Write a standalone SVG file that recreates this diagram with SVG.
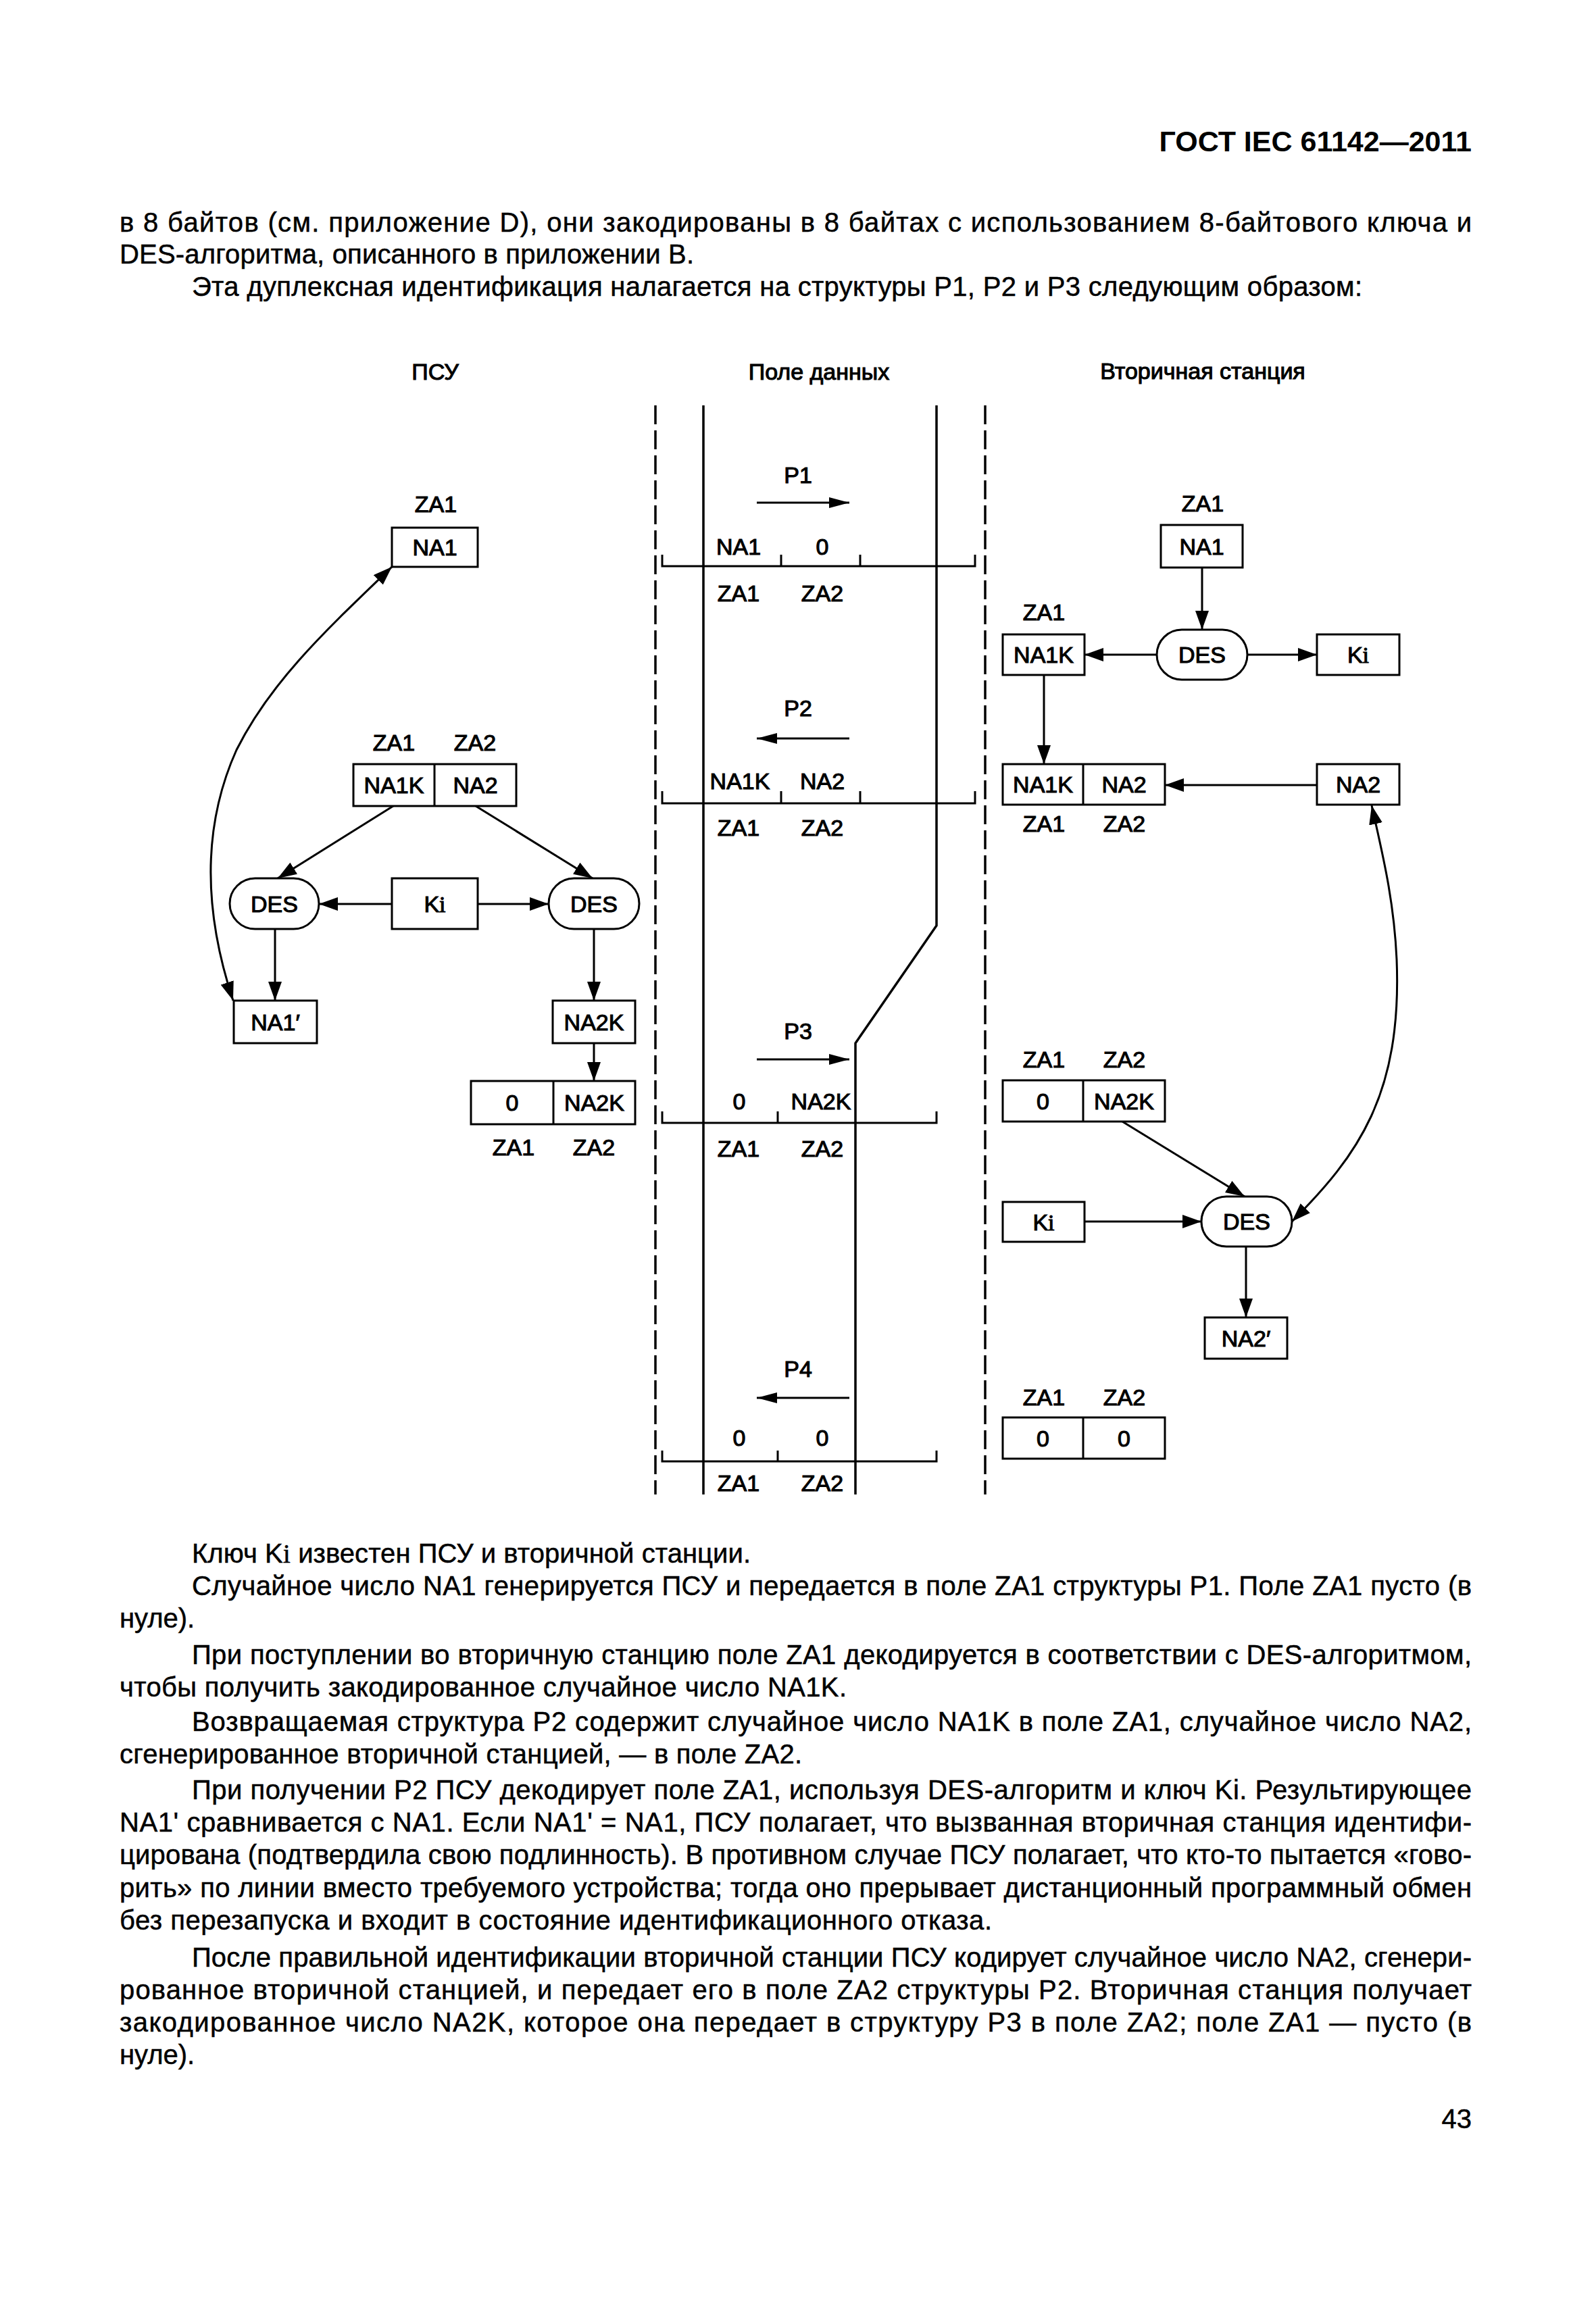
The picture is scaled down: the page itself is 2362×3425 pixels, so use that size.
<svg xmlns="http://www.w3.org/2000/svg" width="2362" height="3425" viewBox="0 0 2362 3425">
<style>
text{font-family:"Liberation Sans",Arial,sans-serif;fill:#000}
.b{font-size:40px;stroke:#000;stroke-width:0.5}
.h{font-size:43px;font-weight:bold}
.l{font-size:34px;text-anchor:middle;stroke:#000;stroke-width:1.1}
.box{fill:#fff;stroke:#000;stroke-width:3}
.c{fill:none;stroke:#000;stroke-width:3}
.v{fill:none;stroke:#000;stroke-width:3.5}
.d{fill:none;stroke:#000;stroke-width:3.5;stroke-dasharray:28 9}
.ser{font-family:"Liberation Serif",serif}
</style>
<defs>
<marker id="ah" markerWidth="28" markerHeight="20" refX="28" refY="10" orient="auto" markerUnits="userSpaceOnUse"><path d="M0,0 L28,10 L0,20 z" fill="#000"/></marker>
<marker id="ah2" markerWidth="28" markerHeight="20" refX="28" refY="10" orient="auto-start-reverse" markerUnits="userSpaceOnUse"><path d="M0,0 L28,10 L0,20 z" fill="#000"/></marker>
<marker id="pa" markerWidth="30" markerHeight="16" refX="30" refY="8" orient="auto" markerUnits="userSpaceOnUse"><path d="M0,0 L30,8 L0,16 z" fill="#000"/></marker>
</defs>
<rect width="2362" height="3425" fill="#fff"/>

<g id="page-text">
<text class="h" x="2178" y="224" text-anchor="end">ГОСТ IEC 61142—2011</text>
<text class="b" x="177" y="343" textLength="2001" lengthAdjust="spacing">в 8 байтов (см. приложение D), они закодированы в 8 байтах с использованием 8-байтового ключа и</text>
<text class="b" x="177" y="390" textLength="850" lengthAdjust="spacing">DES-алгоритма, описанного в приложении B.</text>
<text class="b" x="284" y="438" textLength="1732" lengthAdjust="spacing">Эта дуплексная идентификация налагается на структуры P1, P2 и P3 следующим образом:</text>

<text class="b" x="284" y="2313" textLength="827" lengthAdjust="spacing">Ключ K<tspan class="ser">i</tspan> известен ПСУ и вторичной станции.</text>
<text class="b" x="284" y="2361" textLength="1894" lengthAdjust="spacing">Случайное число NA1 генерируется ПСУ и передается в поле ZA1 структуры P1. Поле ZA1 пусто (в</text>
<text class="b" x="177" y="2409">нуле).</text>
<text class="b" x="284" y="2463" textLength="1894" lengthAdjust="spacing">При поступлении во вторичную станцию поле ZA1 декодируется в соответствии с DES-алгоритмом,</text>
<text class="b" x="177" y="2511" textLength="1076" lengthAdjust="spacing">чтобы получить закодированное случайное число NA1K.</text>
<text class="b" x="284" y="2562" textLength="1894" lengthAdjust="spacing">Возвращаемая структура P2 содержит случайное число NA1K в поле ZA1, случайное число NA2,</text>
<text class="b" x="177" y="2610" textLength="1010" lengthAdjust="spacing">сгенерированное вторичной станцией, — в поле ZA2.</text>
<text class="b" x="284" y="2663" textLength="1894" lengthAdjust="spacing">При получении P2 ПСУ декодирует поле ZA1, используя DES-алгоритм и ключ Ki. Результирующее</text>
<text class="b" x="177" y="2711" textLength="2001" lengthAdjust="spacing">NA1' сравнивается с NA1. Если NA1' = NA1, ПСУ полагает, что вызванная вторичная станция идентифи-</text>
<text class="b" x="177" y="2759" textLength="2001" lengthAdjust="spacing">цирована (подтвердила свою подлинность). В противном случае ПСУ полагает, что кто-то пытается «гово-</text>
<text class="b" x="177" y="2808" textLength="2001" lengthAdjust="spacing">рить» по линии вместо требуемого устройства; тогда оно прерывает дистанционный программный обмен</text>
<text class="b" x="177" y="2856" textLength="1291" lengthAdjust="spacing">без перезапуска и входит в состояние идентификационного отказа.</text>
<text class="b" x="284" y="2911" textLength="1894" lengthAdjust="spacing">После правильной идентификации вторичной станции ПСУ кодирует случайное число NA2, сгенери-</text>
<text class="b" x="177" y="2959" textLength="2001" lengthAdjust="spacing">рованное вторичной станцией, и передает его в поле ZA2 структуры P2. Вторичная станция получает</text>
<text class="b" x="177" y="3007" textLength="2001" lengthAdjust="spacing">закодированное число NA2K, которое она передает в структуру P3 в поле ZA2; поле ZA1 — пусто (в</text>
<text class="b" x="177" y="3055">нуле).</text>
<text class="b" x="2178" y="3150" text-anchor="end">43</text>
</g>

<g id="column-headers">
<text class="l" x="644" y="562">ПСУ</text>
<text class="l" x="1212" y="562">Поле данных</text>
<text class="l" x="1780" y="561">Вторичная станция</text>
</g>

<g id="channel">
<line class="d" x1="970" y1="600" x2="970" y2="2212"/>
<line class="d" x1="1458" y1="600" x2="1458" y2="2212"/>
<line class="v" x1="1041" y1="600" x2="1041" y2="2212"/>
<path class="v" d="M1386,600 V1370 L1266,1544 V2212"/>
</g>

<g id="frame-P1">
<text class="l" x="1181" y="715">P1</text>
<line class="c" x1="1120" y1="744" x2="1257" y2="744" marker-end="url(#pa)"/>
<text class="l" x="1093" y="821">NA1</text>
<text class="l" x="1217" y="821">0</text>
<path class="c" d="M980,821 V838 H1443 V821 M1156,821 V838 M1273,821 V838"/>
<text class="l" x="1093" y="890">ZA1</text>
<text class="l" x="1217" y="890">ZA2</text>
</g>

<g id="frame-P2">
<text class="l" x="1181" y="1060">P2</text>
<line class="c" x1="1257" y1="1093" x2="1120" y2="1093" marker-end="url(#pa)"/>
<text class="l" x="1095" y="1168">NA1K</text>
<text class="l" x="1217" y="1168">NA2</text>
<path class="c" d="M980,1171 V1189 H1443 V1171 M1156,1171 V1189 M1273,1171 V1189"/>
<text class="l" x="1093" y="1237">ZA1</text>
<text class="l" x="1217" y="1237">ZA2</text>
</g>

<g id="frame-P3">
<text class="l" x="1181" y="1538">P3</text>
<line class="c" x1="1120" y1="1568" x2="1257" y2="1568" marker-end="url(#pa)"/>
<text class="l" x="1094" y="1642">0</text>
<text class="l" x="1215" y="1642">NA2K</text>
<path class="c" d="M980,1645 V1662 H1386 V1645 M1151,1645 V1662"/>
<text class="l" x="1093" y="1712">ZA1</text>
<text class="l" x="1217" y="1712">ZA2</text>
</g>

<g id="frame-P4">
<text class="l" x="1181" y="2038">P4</text>
<line class="c" x1="1257" y1="2069" x2="1120" y2="2069" marker-end="url(#pa)"/>
<text class="l" x="1094" y="2140">0</text>
<text class="l" x="1217" y="2140">0</text>
<path class="c" d="M980,2147 V2163 H1386 V2147 M1151,2147 V2163"/>
<text class="l" x="1093" y="2207">ZA1</text>
<text class="l" x="1217" y="2207">ZA2</text>
</g>

<g id="connectors">
<path class="c" d="M345,1481 C295,1330 305,1210 350,1110 C400,1010 480,935 580,839" marker-start="url(#ah2)" marker-end="url(#ah2)"/>
<line class="c" x1="582" y1="1193" x2="411" y2="1300" marker-end="url(#ah)"/>
<line class="c" x1="704" y1="1193" x2="877" y2="1300" marker-end="url(#ah)"/>
<line class="c" x1="580" y1="1338" x2="472" y2="1338" marker-end="url(#ah)"/>
<line class="c" x1="707" y1="1338" x2="812" y2="1338" marker-end="url(#ah)"/>
<line class="c" x1="407" y1="1375" x2="407" y2="1481" marker-end="url(#ah)"/>
<line class="c" x1="879" y1="1375" x2="879" y2="1481" marker-end="url(#ah)"/>
<line class="c" x1="879" y1="1544" x2="879" y2="1600" marker-end="url(#ah)"/>

<line class="c" x1="1779" y1="840" x2="1779" y2="932" marker-end="url(#ah)"/>
<line class="c" x1="1712" y1="969" x2="1605" y2="969" marker-end="url(#ah)"/>
<line class="c" x1="1846" y1="969" x2="1949" y2="969" marker-end="url(#ah)"/>
<line class="c" x1="1545" y1="999" x2="1545" y2="1131" marker-end="url(#ah)"/>
<line class="c" x1="1949" y1="1162" x2="1724" y2="1162" marker-end="url(#ah)"/>
<path class="c" d="M1912,1808 C2010,1710 2075,1620 2067,1420 C2063,1330 2045,1260 2030,1192" marker-start="url(#ah2)" marker-end="url(#ah2)"/>
<line class="c" x1="1661" y1="1660" x2="1842" y2="1771" marker-end="url(#ah)"/>
<line class="c" x1="1605" y1="1808" x2="1778" y2="1808" marker-end="url(#ah)"/>
<line class="c" x1="1844" y1="1845" x2="1844" y2="1950" marker-end="url(#ah)"/>
</g>

<g id="psu-NA1">
<text class="l" x="645" y="758">ZA1</text>
<rect class="box" x="580" y="781" width="127" height="58"/>
<text class="l" x="643.5" y="822">NA1</text>
</g>
<g id="psu-NA1K-NA2">
<text class="l" x="583" y="1111">ZA1</text>
<text class="l" x="703" y="1111">ZA2</text>
<rect class="box" x="523" y="1131" width="241" height="62"/>
<line class="c" x1="643" y1="1131" x2="643" y2="1193"/>
<text class="l" x="583" y="1174">NA1K</text>
<text class="l" x="703.5" y="1174">NA2</text>
</g>
<g id="psu-DES1">
<rect class="box" x="340" y="1300" width="132" height="75" rx="37.5"/>
<text class="l" x="406" y="1350">DES</text>
</g>
<g id="psu-Ki">
<rect class="box" x="580" y="1300" width="127" height="75"/>
<text class="l" x="643.5" y="1350">K<tspan class="ser">i</tspan></text>
</g>
<g id="psu-DES2">
<rect class="box" x="812" y="1300" width="134" height="75" rx="37.5"/>
<text class="l" x="879" y="1350">DES</text>
</g>
<g id="psu-NA1p">
<rect class="box" x="346" y="1481" width="123" height="63"/>
<text class="l" x="407.5" y="1525">NA1′</text>
</g>
<g id="psu-NA2K">
<rect class="box" x="818" y="1481" width="122" height="63"/>
<text class="l" x="879" y="1525">NA2K</text>
</g>
<g id="psu-0-NA2K">
<rect class="box" x="697" y="1600" width="243" height="64"/>
<line class="c" x1="819" y1="1600" x2="819" y2="1664"/>
<text class="l" x="758" y="1644">0</text>
<text class="l" x="879.5" y="1644">NA2K</text>
<text class="l" x="760" y="1710">ZA1</text>
<text class="l" x="879" y="1710">ZA2</text>
</g>

<g id="sec-NA1">
<text class="l" x="1780" y="757">ZA1</text>
<rect class="box" x="1718" y="777" width="121" height="63"/>
<text class="l" x="1778.5" y="821">NA1</text>
</g>
<g id="sec-DES1">
<rect class="box" x="1712" y="932" width="134" height="74" rx="37"/>
<text class="l" x="1779" y="981">DES</text>
</g>
<g id="sec-NA1K">
<text class="l" x="1545" y="918">ZA1</text>
<rect class="box" x="1484" y="939" width="121" height="60"/>
<text class="l" x="1544.5" y="981">NA1K</text>
</g>
<g id="sec-Ki1">
<rect class="box" x="1949" y="939" width="122" height="60"/>
<text class="l" x="2010" y="981">K<tspan class="ser">i</tspan></text>
</g>
<g id="sec-NA1K-NA2">
<rect class="box" x="1484" y="1131" width="240" height="60"/>
<line class="c" x1="1603" y1="1131" x2="1603" y2="1191"/>
<text class="l" x="1543.5" y="1173">NA1K</text>
<text class="l" x="1663.5" y="1173">NA2</text>
<text class="l" x="1545" y="1231">ZA1</text>
<text class="l" x="1664" y="1231">ZA2</text>
</g>
<g id="sec-NA2">
<rect class="box" x="1949" y="1131" width="122" height="60"/>
<text class="l" x="2010" y="1173">NA2</text>
</g>
<g id="sec-0-NA2K">
<text class="l" x="1545" y="1580">ZA1</text>
<text class="l" x="1664" y="1580">ZA2</text>
<rect class="box" x="1484" y="1599" width="240" height="61"/>
<line class="c" x1="1603" y1="1599" x2="1603" y2="1660"/>
<text class="l" x="1543.5" y="1642">0</text>
<text class="l" x="1663.5" y="1642">NA2K</text>
</g>
<g id="sec-Ki2">
<rect class="box" x="1484" y="1779" width="121" height="59"/>
<text class="l" x="1544.5" y="1821">K<tspan class="ser">i</tspan></text>
</g>
<g id="sec-DES2">
<rect class="box" x="1778" y="1771" width="134" height="74" rx="37"/>
<text class="l" x="1845" y="1820">DES</text>
</g>
<g id="sec-NA2p">
<rect class="box" x="1783" y="1950" width="122" height="61"/>
<text class="l" x="1844" y="1993">NA2′</text>
</g>
<g id="sec-0-0">
<text class="l" x="1545" y="2080">ZA1</text>
<text class="l" x="1664" y="2080">ZA2</text>
<rect class="box" x="1484" y="2098" width="240" height="61"/>
<line class="c" x1="1603" y1="2098" x2="1603" y2="2159"/>
<text class="l" x="1543.5" y="2141">0</text>
<text class="l" x="1663.5" y="2141">0</text>
</g>
</svg>
